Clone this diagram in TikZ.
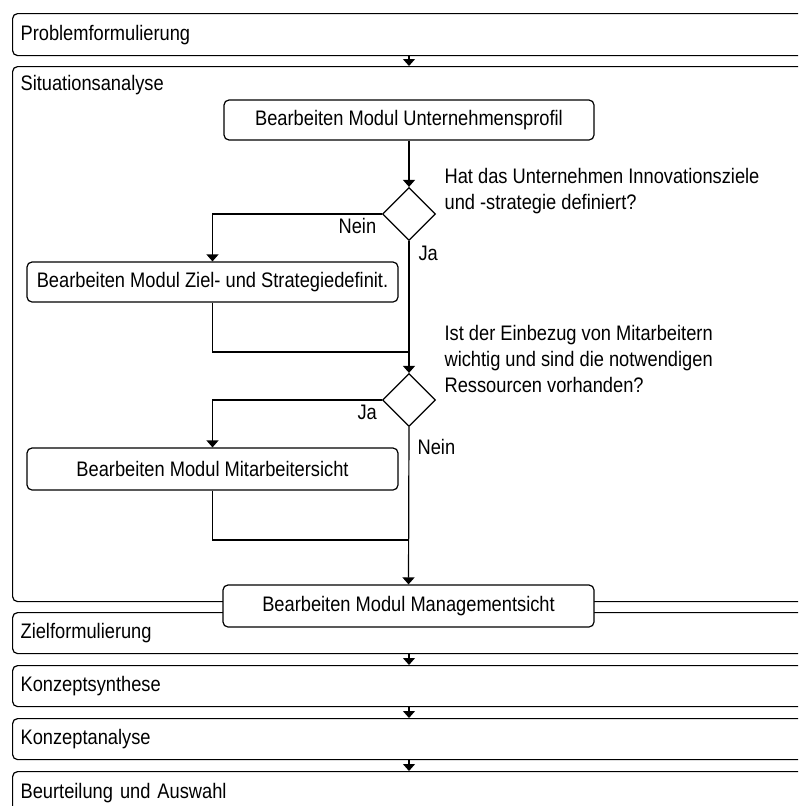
\documentclass[tikz,border=0pt]{standalone}
\usepackage{fontspec}
\setmainfont[FakeStretch=0.87]{Liberation Sans}
\usetikzlibrary{arrows.meta,shapes.geometric}
\begin{document}
\begin{tikzpicture}[x=1pt,y=-1pt,
  font=\fontsize{21}{26}\selectfont,
  line width=1.2pt,
  phasebox/.style={draw, rounded corners=5pt, fill=white, anchor=north west,
    minimum width=820pt, text width=804pt, align=left, inner xsep=8pt, inner ysep=0pt},
  modbox/.style={draw, rounded corners=5pt, fill=white, minimum width=370pt,
    minimum height=41pt, inner sep=0pt},
  decision/.style={draw, diamond, aspect=1, minimum width=53pt, minimum height=53pt,
    inner sep=0pt, fill=white},
  lbl/.style={inner sep=0pt, anchor=base west},
  arr/.style={-{Triangle[length=7pt,width=12pt]}}
]
\useasboundingbox (0,0) rectangle (798,806);
\clip (0,0) rectangle (798,806);

% phases of the procedure
\node[phasebox, minimum height=535pt] (sit) at (12,66) {};
\node[lbl] (sitlabel) at (20,90) {Situationsanalyse};
\node[phasebox, minimum height=42pt] (p1) at (12,13) {Problemformulierung};
\node[phasebox, minimum height=41pt] (p3) at (12,612) {Zielformulierung};
\node[phasebox, minimum height=41pt] (p4) at (12,665) {Konzeptsynthese};
\node[phasebox, minimum height=41pt] (p5) at (12,718) {Konzeptanalyse};
\node[phasebox, minimum height=42pt] (p6) at (12,771) {Beurteilung und Auswahl};

% modules of the situation analysis
\node[modbox, minimum height=40pt] (u) at (409,120) {Bearbeiten Modul Unternehmensprofil};
\node[decision] (d1) at (409,214) {};
\node[modbox, minimum width=371pt, minimum height=40pt] (z) at (212.5,282) {Bearbeiten Modul Ziel- und Strategiedefinit.};
\node[decision] (d2) at (409,400) {};
\node[modbox, minimum width=371pt, minimum height=42pt] (m) at (212.5,469) {Bearbeiten Modul Mitarbeitersicht};
\node[modbox, minimum width=371pt, minimum height=42pt] (mg) at (408.5,606) {Bearbeiten Modul Managementsicht};

% questions (anchored at the baseline of their last line) and branch labels
\node[lbl, align=left] (q1) at (444,209) {Hat das Unternehmen Innovationsziele\\und -strategie definiert?};
\node[lbl, align=left] (q2) at (444,392) {Ist der Einbezug von Mitarbeitern\\wichtig und sind die notwendigen\\Ressourcen vorhanden?};
\node[lbl] (n1) at (338,233) {Nein};
\node[lbl] (y1) at (418,260) {Ja};
\node[lbl] (y2) at (357,419) {Ja};
\node[lbl] (n2) at (417,454) {Nein};

% flow
\coordinate (j1) at (409,352);
\coordinate (j2) at (409,540);
\draw[arr] (p1.south -| u.center) -- (sit.north -| u.center);
\draw[arr] (u) -- (d1);
\draw[arr] (d1.west) -| (z.north);
\draw[arr] (d1.south) -- (d2.north);
\draw (z.south) |- (j1);
\draw[arr] (d2.west) -| (m.north);
\draw[arr] (d2.south) -- (mg.north);
\draw (m.south) |- (j2);
\draw[arr] (p3.south -| u.center) -- (p4.north -| u.center);
\draw[arr] (p4.south -| u.center) -- (p5.north -| u.center);
\draw[arr] (p5.south -| u.center) -- (p6.north -| u.center);
\end{tikzpicture}
\end{document}
